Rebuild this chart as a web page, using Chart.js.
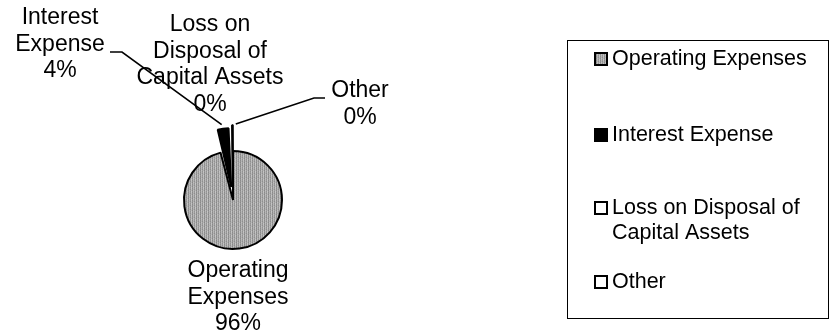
<!DOCTYPE html>
<html><head><meta charset="utf-8">
<script src="https://cdn.jsdelivr.net/npm/chart.js@4"></script>
<style>html,body{margin:0;padding:0;background:#fff;} #wrap{width:830px;height:335px;position:relative;}</style>
</head><body><div id="wrap"><canvas id="c" width="830" height="335"></canvas></div>
<script>
// ---- data ----
const categories = ['Operating Expenses', 'Interest Expense', 'Loss on Disposal of Capital Assets', 'Other'];
const values = [95.9, 3.8, 0.2, 0.1];
const explode = [0, 52, 52, 52];

// ---- styles ----
function greyPattern() {
  const c = document.createElement('canvas');
  c.width = 4; c.height = 4;
  const g = c.getContext('2d');
  const cols = [['#8a8a8a','#b8b8b8','#9a9a9a','#c2c2c2'],
                ['#939393','#b0b0b0','#8e8e8e','#bdbdbd'],
                ['#888888','#c0c0c0','#a0a0a0','#b4b4b4'],
                ['#969696','#b6b6b6','#929292','#c6c6c6']];
  for (let y = 0; y < 4; y++) for (let x = 0; x < 4; x++) { g.fillStyle = cols[y][x]; g.fillRect(x, y, 1, 1); }
  return g.createPattern(c, 'repeat');
}
const ctx0 = document.getElementById('c').getContext('2d');
const pat = greyPattern();
const fills = [pat, '#000000', '#ffffff', '#ffffff'];
const FONT = '"Liberation Sans", Arial, sans-serif';

function wrap(ctx, text, maxW) {
  const words = text.split(' ');
  const lines = [];
  let cur = '';
  for (const w of words) {
    const t = cur ? cur + ' ' + w : w;
    if (cur && ctx.measureText(t).width > maxW) { lines.push(cur); cur = w; } else cur = t;
  }
  if (cur) lines.push(cur);
  return lines;
}

const labelPlugin = {
  id: 'pieLabels',
  afterDraw(chart) {
    const ctx = chart.ctx;
    const meta = chart.getDatasetMeta(0);
    const total = values.reduce((a, b) => a + b, 0);
    const pct = values.map(v => Math.round(v / total * 100) + '%');
    // label anchors (centre x, first line centre y)
    const anchors = [[238, 271], [60, 18], [210, 25], [360, 91]];
    ctx.save();
    ctx.fillStyle = '#000';
    ctx.font = '23px ' + FONT;
    ctx.textAlign = 'center';
    ctx.textBaseline = 'middle';
    const lh = 26.5;
    categories.forEach((cat, i) => {
      const lines = wrap(ctx, cat, 160).concat([pct[i]]);
      lines.forEach((ln, k) => ctx.fillText(ln, anchors[i][0], anchors[i][1] + k * lh));
    });
    // leader lines to slice edges
    function edgePoint(i) {
      const a = meta.data[i];
      const mid = (a.startAngle + a.endAngle) / 2;
      const r = a.outerRadius + explode[i] / 2;
      return [a.x + Math.cos(mid) * r, a.y + Math.sin(mid) * r];
    }
    ctx.strokeStyle = '#000';
    ctx.lineWidth = 1.6;
    let p = edgePoint(1);
    ctx.beginPath(); ctx.moveTo(110, 52); ctx.lineTo(122, 52); ctx.lineTo(p[0] - 1, p[1] - 1); ctx.stroke();
    p = edgePoint(3);
    ctx.beginPath(); ctx.moveTo(325, 98); ctx.lineTo(314, 98); ctx.lineTo(p[0] + 3, p[1] - 1); ctx.stroke();

    // legend
    ctx.lineWidth = 1;
    ctx.strokeRect(567.5, 40.5, 261, 278);
    ctx.font = '21.5px ' + FONT;
    ctx.textAlign = 'left';
    const ly = [59, 135, 208, 282];
    categories.forEach((cat, i) => {
      const lines = wrap(ctx, cat, 205);
      const y = ly[i];
      ctx.fillStyle = fills[i];
      ctx.fillRect(595, y - 6, 12, 12);
      ctx.lineWidth = 2;
      ctx.strokeRect(595, y - 6, 12, 12);
      ctx.fillStyle = '#000';
      lines.forEach((ln, k) => ctx.fillText(ln, 612, y + k * 25));
    });
    ctx.restore();
  }
};

new Chart(document.getElementById('c'), {
  type: 'pie',
  data: {
    labels: categories,
    datasets: [{
      data: values,
      backgroundColor: fills,
      borderColor: '#000000',
      borderWidth: 2,
      offset: explode,
      hoverOffset: 0
    }]
  },
  options: {
    responsive: false,
    animation: false,
    devicePixelRatio: 1,
    radius: 49,
    layout: { padding: { left: 0, right: 364, top: 65, bottom: 0 } },
    plugins: { legend: { display: false }, tooltip: { enabled: false } }
  },
  plugins: [labelPlugin]
});
</script>
</body></html>
